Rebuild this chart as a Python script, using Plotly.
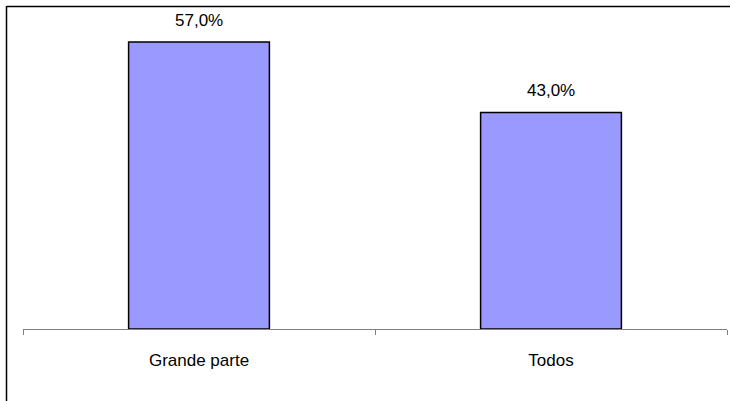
import plotly.graph_objects as go

categories = ["Grande parte", "Todos"]
values = [57.0, 43.0]
labels = ["57,0%", "43,0%"]

FONT = "Liberation Sans, Arial, sans-serif"
FS = 17

fig = go.Figure()
fig.add_trace(go.Bar(
    x=categories, y=values, width=0.4,
    marker=dict(color="#9999FF", line=dict(color="#000000", width=1.5)),
))

for c, v, s in zip(categories, values, labels):
    fig.add_annotation(x=c, y=v, text=s, showarrow=False, yanchor="middle",
                       yshift=22, font=dict(family=FONT, size=FS, color="#000000"))

W, H = 730, 401
l, r, t, b = 23, 3, 27, 72
pw, ph = W - l - r, H - t - b

fig.update_layout(
    width=W, height=H, margin=dict(l=l, r=r, t=t, b=b),
    paper_bgcolor="white", plot_bgcolor="white",
    separators=",.", showlegend=False,
    xaxis=dict(range=[-0.5, 1.5], showline=True, linecolor="#808080", linewidth=1,
               ticks="outside", tickson="boundaries", ticklen=5, tickcolor="#808080",
               tickfont=dict(family=FONT, size=FS, color="#000000"),
               ticklabelstandoff=16, showgrid=False),
    yaxis=dict(range=[0, 60], visible=False, showgrid=False),
    shapes=[
        dict(type="line", xref="paper", yref="paper",
             x0=(7 - l) / pw, x1=(W + 10 - l) / pw,
             y0=(H - b - 6.5) / ph, y1=(H - b - 6.5) / ph,
             line=dict(color="#000000", width=1.5)),
        dict(type="line", xref="paper", yref="paper",
             x0=(6.5 - l) / pw, x1=(6.5 - l) / pw,
             y0=(H - b - 6) / ph, y1=-(b + 10) / ph,
             line=dict(color="#000000", width=1.5)),
    ],
)

fig.write_html("out.html")
